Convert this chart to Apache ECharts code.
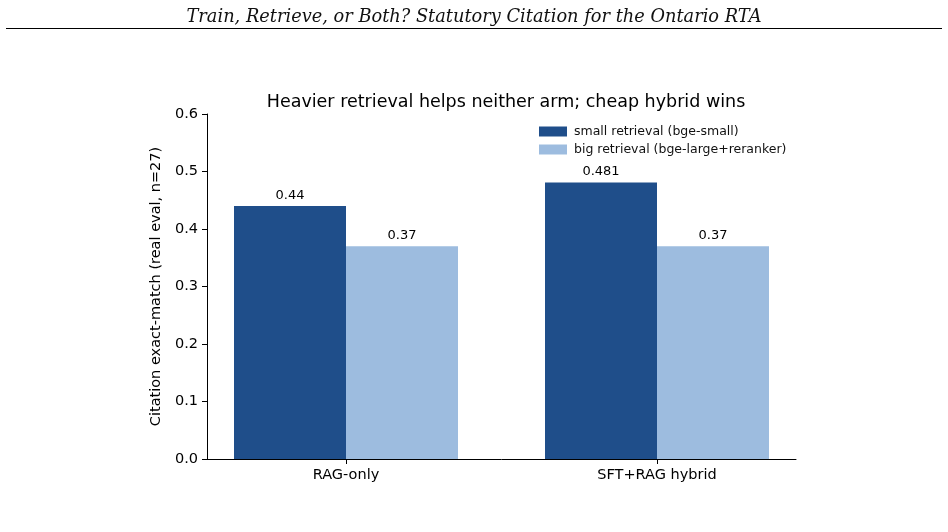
<!DOCTYPE html>
<html>
<head>
<meta charset="utf-8">
<script src="https://cdn.jsdelivr.net/npm/echarts@6/dist/echarts.min.js"></script>
<style>
html,body{margin:0;padding:0;background:#fff;}
#chart{width:948px;height:532px;}
</style>
</head>
<body>
<div id="chart"></div>
<script>
const pageTitle = "Train, Retrieve, or Both? Statutory Citation for the Ontario RTA";
const chartTitle = "Heavier retrieval helps neither arm; cheap hybrid wins";
const categories = ["RAG-only", "SFT+RAG hybrid"];
const seriesNames = ["small retrieval (bge-small)", "big retrieval (bge-large+reranker)"];
const smallValues = [0.44, 0.481];
const bigValues = [0.37, 0.37];
const yTicks = [0.0, 0.1, 0.2, 0.3, 0.4, 0.5, 0.6];

const colors = ["#1f4e8a", "#9dbcdf"];
const font = "DejaVu Sans";
const plotTop = 114, plotBottom = 532 - 459;

const chart = echarts.init(document.getElementById('chart'), null, {renderer: 'canvas'});
chart.setOption({
  animation: false,
  backgroundColor: '#fff',
  textStyle: {fontFamily: font},
  title: [{
    text: pageTitle,
    left: 'center', top: 3,
    textStyle: {fontFamily: 'DejaVu Serif', fontStyle: 'italic', fontWeight: 'normal', fontSize: 17.8, color: '#111'}
  }, {
    text: chartTitle,
    left: 501, textAlign: 'center', top: 88,
    textStyle: {fontFamily: font, fontWeight: 'normal', fontSize: 17.5, color: '#000'}
  }],
  graphic: [{
    type: 'line', shape: {x1: 6, y1: 28.5, x2: 942, y2: 28.5},
    style: {stroke: '#000', lineWidth: 1}
  }],
  legend: {
    orient: 'vertical', left: 534, top: 120,
    itemWidth: 28, itemHeight: 10, itemGap: 5,
    icon: 'rect',
    textStyle: {fontFamily: font, fontSize: 12.5, color: '#111', padding: [0, 0, 0, 2]},
    data: seriesNames
  },
  grid: [
    {left: 190.5, width: 622, top: plotTop, bottom: plotBottom},
    {left: 207, width: 589, top: plotTop, bottom: plotBottom}
  ],
  xAxis: [{
    type: 'category', gridIndex: 0, data: categories,
    axisLine: {show: false},
    axisTick: {show: true, alignWithLabel: true, length: 5, lineStyle: {color: '#000'}},
    axisLabel: {fontFamily: font, fontSize: 14.5, color: '#000', margin: 9}
  }, {
    type: 'value', gridIndex: 1, min: 0, max: 1,
    axisLine: {show: true, lineStyle: {color: '#000', width: 1}},
    axisTick: {show: false}, axisLabel: {show: false}, splitLine: {show: false}
  }],
  yAxis: [{
    type: 'value', gridIndex: 0, min: 0, max: 0.6, interval: 0.1,
    show: false
  }, {
    type: 'value', gridIndex: 1, min: 0, max: 0.6, interval: 0.1,
    name: 'Citation exact-match (real eval, n=27)',
    nameLocation: 'middle', nameGap: 37,
    nameTextStyle: {fontFamily: font, fontSize: 14.5, color: '#000'},
    axisLine: {show: true, lineStyle: {color: '#000', width: 1}},
    axisTick: {show: true, length: 5, lineStyle: {color: '#000'}},
    axisLabel: {fontFamily: font, fontSize: 14.5, color: '#000', margin: 9,
      formatter: v => v.toFixed(1)},
    splitLine: {show: false}
  }],
  series: [{
    name: seriesNames[0], type: 'bar', xAxisIndex: 0, yAxisIndex: 0,
    data: smallValues, barWidth: 112, barGap: '0%',
    itemStyle: {color: colors[0]},
    label: {show: true, position: 'top', distance: 4, fontFamily: font, fontSize: 13, color: '#000',
      formatter: p => String(p.value)}
  }, {
    name: seriesNames[1], type: 'bar', xAxisIndex: 0, yAxisIndex: 0,
    data: bigValues, barWidth: 112, barGap: '0%',
    itemStyle: {color: colors[1]},
    label: {show: true, position: 'top', distance: 4, fontFamily: font, fontSize: 13, color: '#000',
      formatter: p => String(p.value)}
  }]
});
</script>
</body>
</html>
